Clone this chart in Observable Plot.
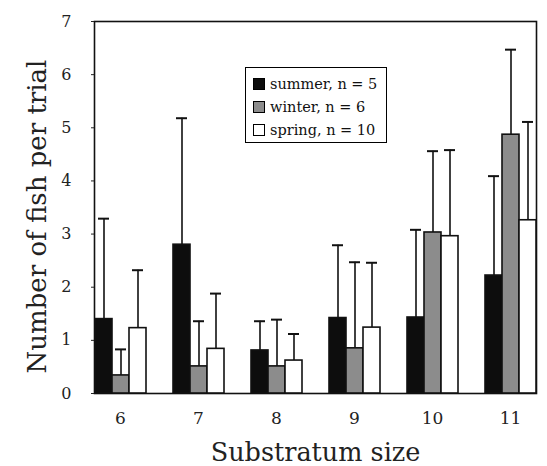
<!DOCTYPE html>
<html><head><meta charset="utf-8">
<script src="https://cdn.jsdelivr.net/npm/d3@7"></script>
<script src="https://cdn.jsdelivr.net/npm/@observablehq/plot@0.6"></script>
<style>
html,body{margin:0;padding:0;background:#fff;overflow:hidden;}
#wrap{position:relative;width:547px;height:466px;overflow:hidden;}
#wrap svg{max-width:none !important;}
#legend{position:absolute;left:245px;top:67px;width:142px;height:76px;border:1.6px solid #000;background:#fff;
  font-family:"DejaVu Serif",serif;font-size:14.5px;box-sizing:border-box;padding:4px 0 0 7px;color:#111;}
#legend .row{display:flex;align-items:center;height:23px;white-space:nowrap;}
#legend .sw{width:10px;height:10px;border:1.5px solid #000;margin-right:5px;box-sizing:content-box;flex:none;}
</style></head>
<body><div id="wrap"></div>
<script>
const groups = [6, 7, 8, 9, 10, 11];
const seasons = ["summer", "winter", "spring"];
const legendLabels = ["summer, n = 5", "winter, n = 6", "spring, n = 10"];
const colors = ["#0d0d0d", "#8c8c8c", "#ffffff"];
const summerMean  = [1.40, 2.80, 0.81, 1.42, 1.43, 2.22];
const summerUpper = [3.29, 5.18, 1.36, 2.79, 3.08, 4.09];
const winterMean  = [0.34, 0.51, 0.51, 0.85, 3.03, 4.87];
const winterUpper = [0.83, 1.36, 1.39, 2.47, 4.56, 6.47];
const springMean  = [1.23, 0.84, 0.62, 1.24, 2.96, 3.26];
const springUpper = [2.32, 1.88, 1.12, 2.46, 4.58, 5.11];
const yTicks = [0, 1, 2, 3, 4, 5, 6, 7];
const yLabel = "Number of fish per trial";
const xLabel = "Substratum size";

const means = {summer: summerMean, winter: winterMean, spring: springMean};
const uppers = {summer: summerUpper, winter: winterUpper, spring: springUpper};
const rows = [];
groups.forEach((g, i) => seasons.forEach(s => rows.push({group: g, season: s, mean: means[s][i], upper: uppers[s][i]})));

const font = "DejaVu Serif";
const chart = Plot.plot({
  width: 555, height: 466,
  marginLeft: 79, marginRight: 4, marginTop: 21, marginBottom: 73,
  style: {fontFamily: font, background: "#fff", color: "#222"},
  fx: {domain: groups, paddingInner: 0.338, paddingOuter: 0.169, label: null},
  x: {domain: seasons, padding: 0, axis: null},
  y: {domain: [0, 7]},
  color: {domain: seasons, range: colors},
  marks: [
    Plot.frame({facet: "super", stroke: "#111", strokeWidth: 1.6}),
    Plot.ruleX(rows, {fx: "group", x: "season", y1: "mean", y2: "upper", stroke: "#111", strokeWidth: 1.6}),
    Plot.tickY(rows, {fx: "group", x: "season", y: "upper", insetLeft: 3, insetRight: 3, stroke: "#111", strokeWidth: 2}),
    Plot.barY(rows, {fx: "group", x: "season", y: "mean", fill: "season", stroke: "#111", strokeWidth: 1.6}),
    Plot.axisY({ticks: yTicks, tickFormat: "d", tickSize: 3, tickPadding: 20, fontSize: 16, label: null}),
    Plot.text([yLabel], {text: d => d, facet: "super", frameAnchor: "left", textAnchor: "middle", lineAnchor: "middle",
      rotate: -90, dx: -57, dy: 9, fontSize: 26, fill: "#222"}),
    Plot.axisFx({anchor: "bottom", tickSize: 0, tickPadding: 18, fontSize: 17, label: null}),
    Plot.axisFx({anchor: "bottom", ticks: [], label: xLabel, labelArrow: "none", labelAnchor: "center", labelOffset: 67, fontSize: 25.5})
  ]
});
chart.style.maxWidth = "none";
const wrap = document.getElementById("wrap");
wrap.appendChild(chart);

const legend = document.createElement("div");
legend.id = "legend";
seasons.forEach((s, i) => {
  const row = document.createElement("div");
  row.className = "row";
  const sw = document.createElement("span");
  sw.className = "sw";
  sw.style.background = colors[i];
  const t = document.createElement("span");
  t.textContent = legendLabels[i];
  row.appendChild(sw); row.appendChild(t);
  legend.appendChild(row);
});
wrap.appendChild(legend);
</script>
</body></html>
